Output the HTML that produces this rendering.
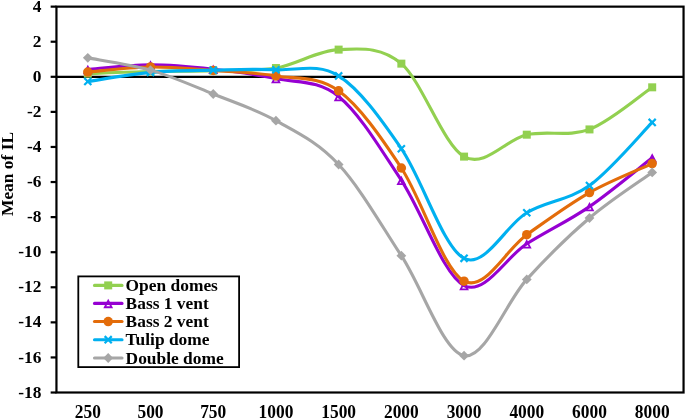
<!DOCTYPE html>
<html><head><meta charset="utf-8"><title>Mean of IL</title>
<style>
html,body{margin:0;padding:0;background:#fff;}
body{width:685px;height:419px;position:relative;overflow:hidden;font-family:"Liberation Serif",serif;font-weight:bold;color:#000;font-size:17.4px;line-height:20px;}
.yl{position:absolute;left:0;width:41.5px;text-align:right;height:20px;white-space:nowrap;}
.xl{position:absolute;top:401.7px;width:60px;text-align:center;height:20px;white-space:nowrap;transform:scaleY(1.08);transform-origin:50% 10.9px;}
.lg{position:absolute;left:125.6px;height:20px;white-space:nowrap;}
.yt{position:absolute;left:-42.7px;top:164.1px;width:100px;height:20px;text-align:center;transform:rotate(-90deg);transform-origin:50% 50%;white-space:nowrap;}
</style></head><body><div id="t" style="position:absolute;left:0;top:0;width:685px;height:419px;will-change:transform;">
<svg width="685" height="419" viewBox="0 0 685 419" style="position:absolute;left:0;top:0">
<rect x="0" y="0" width="685" height="419" fill="#fff"/>
<rect x="56.45" y="6.64" width="627.10" height="385.86" fill="none" stroke="#000" stroke-width="2.20"/>
<line x1="50.65" y1="6.64" x2="56.45" y2="6.64" stroke="#000" stroke-width="2.20"/>
<line x1="50.65" y1="41.72" x2="56.45" y2="41.72" stroke="#000" stroke-width="2.20"/>
<line x1="50.65" y1="76.80" x2="56.45" y2="76.80" stroke="#000" stroke-width="2.20"/>
<line x1="50.65" y1="111.88" x2="56.45" y2="111.88" stroke="#000" stroke-width="2.20"/>
<line x1="50.65" y1="146.96" x2="56.45" y2="146.96" stroke="#000" stroke-width="2.20"/>
<line x1="50.65" y1="182.04" x2="56.45" y2="182.04" stroke="#000" stroke-width="2.20"/>
<line x1="50.65" y1="217.12" x2="56.45" y2="217.12" stroke="#000" stroke-width="2.20"/>
<line x1="50.65" y1="252.20" x2="56.45" y2="252.20" stroke="#000" stroke-width="2.20"/>
<line x1="50.65" y1="287.28" x2="56.45" y2="287.28" stroke="#000" stroke-width="2.20"/>
<line x1="50.65" y1="322.36" x2="56.45" y2="322.36" stroke="#000" stroke-width="2.20"/>
<line x1="50.65" y1="357.44" x2="56.45" y2="357.44" stroke="#000" stroke-width="2.20"/>
<line x1="50.65" y1="392.52" x2="56.45" y2="392.52" stroke="#000" stroke-width="2.20"/>
<line x1="56.45" y1="76.80" x2="683.55" y2="76.80" stroke="#000" stroke-width="2.20"/>
<path d="M87.81 73.64 C98.26 73.29 129.61 72.03 150.51 71.54 C171.42 71.04 192.32 71.25 213.22 70.66 C234.13 70.08 255.03 71.54 275.94 68.03 C296.84 64.52 317.74 50.34 338.64 49.61 C359.55 48.88 380.45 45.81 401.35 63.64 C422.26 81.48 443.16 144.77 464.06 156.61 C484.97 168.45 505.87 139.21 526.77 134.68 C547.68 130.15 568.58 137.31 589.49 129.42 C610.39 121.53 641.74 94.34 652.19 87.32" fill="none" stroke="#92D050" stroke-width="3.10" stroke-linecap="round" stroke-linejoin="round"/>
<rect x="83.81" y="69.64" width="8.00" height="8.00" fill="#92D050"/>
<rect x="146.51" y="67.54" width="8.00" height="8.00" fill="#92D050"/>
<rect x="209.22" y="66.66" width="8.00" height="8.00" fill="#92D050"/>
<rect x="271.94" y="64.03" width="8.00" height="8.00" fill="#92D050"/>
<rect x="334.64" y="45.61" width="8.00" height="8.00" fill="#92D050"/>
<rect x="397.35" y="59.64" width="8.00" height="8.00" fill="#92D050"/>
<rect x="460.06" y="152.61" width="8.00" height="8.00" fill="#92D050"/>
<rect x="522.77" y="130.68" width="8.00" height="8.00" fill="#92D050"/>
<rect x="585.49" y="125.42" width="8.00" height="8.00" fill="#92D050"/>
<rect x="648.19" y="83.32" width="8.00" height="8.00" fill="#92D050"/>
<path d="M87.81 69.43 C98.26 68.67 129.61 64.90 150.51 64.87 C171.42 64.84 192.32 66.98 213.22 69.26 C234.13 71.54 255.03 74.02 275.94 78.55 C296.84 83.09 317.74 79.49 338.64 96.44 C359.55 113.40 380.45 148.77 401.35 180.29 C422.26 211.80 443.16 274.94 464.06 285.53 C484.97 296.11 505.87 256.94 526.77 243.78 C547.68 230.63 568.58 220.92 589.49 206.60 C610.39 192.27 641.74 165.96 652.19 157.83" fill="none" stroke="#9600D2" stroke-width="3.10" stroke-linecap="round" stroke-linejoin="round"/>
<path d="M87.81 66.73 L91.21 73.28 L84.41 73.28 Z" fill="none" stroke="#9600D2" stroke-width="1.8" stroke-linejoin="miter" stroke-miterlimit="10"/>
<path d="M150.51 62.17 L153.91 68.72 L147.11 68.72 Z" fill="none" stroke="#9600D2" stroke-width="1.8" stroke-linejoin="miter" stroke-miterlimit="10"/>
<path d="M213.22 66.56 L216.62 73.11 L209.82 73.11 Z" fill="none" stroke="#9600D2" stroke-width="1.8" stroke-linejoin="miter" stroke-miterlimit="10"/>
<path d="M275.94 75.85 L279.33 82.40 L272.54 82.40 Z" fill="none" stroke="#9600D2" stroke-width="1.8" stroke-linejoin="miter" stroke-miterlimit="10"/>
<path d="M338.64 93.74 L342.04 100.29 L335.25 100.29 Z" fill="none" stroke="#9600D2" stroke-width="1.8" stroke-linejoin="miter" stroke-miterlimit="10"/>
<path d="M401.35 177.59 L404.75 184.14 L397.95 184.14 Z" fill="none" stroke="#9600D2" stroke-width="1.8" stroke-linejoin="miter" stroke-miterlimit="10"/>
<path d="M464.06 282.83 L467.46 289.38 L460.66 289.38 Z" fill="none" stroke="#9600D2" stroke-width="1.8" stroke-linejoin="miter" stroke-miterlimit="10"/>
<path d="M526.77 241.08 L530.17 247.63 L523.38 247.63 Z" fill="none" stroke="#9600D2" stroke-width="1.8" stroke-linejoin="miter" stroke-miterlimit="10"/>
<path d="M589.49 203.90 L592.88 210.45 L586.09 210.45 Z" fill="none" stroke="#9600D2" stroke-width="1.8" stroke-linejoin="miter" stroke-miterlimit="10"/>
<path d="M652.19 155.13 L655.59 161.68 L648.79 161.68 Z" fill="none" stroke="#9600D2" stroke-width="1.8" stroke-linejoin="miter" stroke-miterlimit="10"/>
<path d="M87.81 72.06 C98.26 71.22 129.61 67.24 150.51 66.98 C171.42 66.71 192.32 68.99 213.22 70.49 C234.13 71.98 255.03 72.53 275.94 75.92 C296.84 79.31 317.74 75.48 338.64 90.83 C359.55 106.18 380.45 136.29 401.35 168.01 C422.26 199.73 443.16 270.03 464.06 281.14 C484.97 292.25 505.87 249.42 526.77 234.66 C547.68 219.90 568.58 204.40 589.49 192.56 C610.39 180.72 641.74 168.45 652.19 163.62" fill="none" stroke="#E36C0A" stroke-width="3.10" stroke-linecap="round" stroke-linejoin="round"/>
<circle cx="87.81" cy="72.06" r="4.75" fill="#E36C0A"/>
<circle cx="150.51" cy="66.98" r="4.75" fill="#E36C0A"/>
<circle cx="213.22" cy="70.49" r="4.75" fill="#E36C0A"/>
<circle cx="275.94" cy="75.92" r="4.75" fill="#E36C0A"/>
<circle cx="338.64" cy="90.83" r="4.75" fill="#E36C0A"/>
<circle cx="401.35" cy="168.01" r="4.75" fill="#E36C0A"/>
<circle cx="464.06" cy="281.14" r="4.75" fill="#E36C0A"/>
<circle cx="526.77" cy="234.66" r="4.75" fill="#E36C0A"/>
<circle cx="589.49" cy="192.56" r="4.75" fill="#E36C0A"/>
<circle cx="652.19" cy="163.62" r="4.75" fill="#E36C0A"/>
<path d="M87.81 81.54 C98.26 80.02 129.61 74.32 150.51 72.41 C171.42 70.51 192.32 70.57 213.22 70.13 C234.13 69.70 255.03 68.82 275.94 69.78 C296.84 70.75 317.74 62.77 338.64 75.92 C359.55 89.08 380.45 118.31 401.35 148.71 C422.26 179.12 443.16 247.67 464.06 258.34 C484.97 269.01 505.87 224.87 526.77 212.74 C547.68 200.60 568.58 200.60 589.49 185.55 C610.39 170.49 641.74 132.93 652.19 122.40" fill="none" stroke="#00B0F0" stroke-width="3.10" stroke-linecap="round" stroke-linejoin="round"/>
<path d="M84.26 77.99 L91.36 85.09 M84.26 85.09 L91.36 77.99" stroke="#00B0F0" stroke-width="2.2" fill="none"/>
<path d="M146.96 68.86 L154.06 75.96 M146.96 75.96 L154.06 68.86" stroke="#00B0F0" stroke-width="2.2" fill="none"/>
<path d="M209.67 66.58 L216.77 73.68 M209.67 73.68 L216.77 66.58" stroke="#00B0F0" stroke-width="2.2" fill="none"/>
<path d="M272.38 66.23 L279.49 73.33 M272.38 73.33 L279.49 66.23" stroke="#00B0F0" stroke-width="2.2" fill="none"/>
<path d="M335.09 72.37 L342.19 79.47 M335.09 79.47 L342.19 72.37" stroke="#00B0F0" stroke-width="2.2" fill="none"/>
<path d="M397.80 145.16 L404.90 152.26 M397.80 152.26 L404.90 145.16" stroke="#00B0F0" stroke-width="2.2" fill="none"/>
<path d="M460.51 254.79 L467.61 261.89 M460.51 261.89 L467.61 254.79" stroke="#00B0F0" stroke-width="2.2" fill="none"/>
<path d="M523.23 209.19 L530.32 216.29 M523.23 216.29 L530.32 209.19" stroke="#00B0F0" stroke-width="2.2" fill="none"/>
<path d="M585.94 182.00 L593.03 189.10 M585.94 189.10 L593.03 182.00" stroke="#00B0F0" stroke-width="2.2" fill="none"/>
<path d="M648.64 118.85 L655.74 125.95 M648.64 125.95 L655.74 118.85" stroke="#00B0F0" stroke-width="2.2" fill="none"/>
<path d="M87.81 57.86 C98.26 59.90 129.61 64.11 150.51 70.13 C171.42 76.16 192.32 85.57 213.22 93.99 C234.13 102.41 255.03 108.90 275.94 120.65 C296.84 132.40 317.74 141.99 338.64 164.50 C359.55 187.01 380.45 223.84 401.35 255.71 C422.26 287.57 443.16 351.74 464.06 355.69 C484.97 359.63 505.87 302.34 526.77 279.39 C547.68 256.44 568.58 235.83 589.49 218.00 C610.39 200.16 641.74 179.99 652.19 172.39" fill="none" stroke="#A6A6A6" stroke-width="3.10" stroke-linecap="round" stroke-linejoin="round"/>
<path d="M87.81 52.96 L92.71 57.86 L87.81 62.76 L82.91 57.86 Z" fill="#A6A6A6"/>
<path d="M150.51 65.23 L155.41 70.13 L150.51 75.03 L145.61 70.13 Z" fill="#A6A6A6"/>
<path d="M213.22 89.09 L218.12 93.99 L213.22 98.89 L208.32 93.99 Z" fill="#A6A6A6"/>
<path d="M275.94 115.75 L280.83 120.65 L275.94 125.55 L271.04 120.65 Z" fill="#A6A6A6"/>
<path d="M338.64 159.60 L343.54 164.50 L338.64 169.40 L333.75 164.50 Z" fill="#A6A6A6"/>
<path d="M401.35 250.81 L406.25 255.71 L401.35 260.61 L396.45 255.71 Z" fill="#A6A6A6"/>
<path d="M464.06 350.79 L468.96 355.69 L464.06 360.59 L459.16 355.69 Z" fill="#A6A6A6"/>
<path d="M526.77 274.49 L531.67 279.39 L526.77 284.29 L521.88 279.39 Z" fill="#A6A6A6"/>
<path d="M589.49 213.10 L594.38 218.00 L589.49 222.90 L584.59 218.00 Z" fill="#A6A6A6"/>
<path d="M652.19 167.49 L657.09 172.39 L652.19 177.29 L647.29 172.39 Z" fill="#A6A6A6"/>
<rect x="78.30" y="276.40" width="160.80" height="90.70" fill="#fff" stroke="#000" stroke-width="1.8"/>
<line x1="94.5" y1="285.40" x2="122.0" y2="285.40" stroke="#92D050" stroke-width="3.10" stroke-linecap="round"/>
<rect x="104.20" y="281.40" width="8.00" height="8.00" fill="#92D050"/>
<line x1="94.5" y1="303.40" x2="122.0" y2="303.40" stroke="#9600D2" stroke-width="3.10" stroke-linecap="round"/>
<path d="M108.20 300.70 L111.60 307.25 L104.80 307.25 Z" fill="none" stroke="#9600D2" stroke-width="1.8" stroke-linejoin="miter" stroke-miterlimit="10"/>
<line x1="94.5" y1="321.55" x2="122.0" y2="321.55" stroke="#E36C0A" stroke-width="3.10" stroke-linecap="round"/>
<circle cx="108.20" cy="321.55" r="4.75" fill="#E36C0A"/>
<line x1="94.5" y1="339.70" x2="122.0" y2="339.70" stroke="#00B0F0" stroke-width="3.10" stroke-linecap="round"/>
<path d="M104.65 336.15 L111.75 343.25 M104.65 343.25 L111.75 336.15" stroke="#00B0F0" stroke-width="2.2" fill="none"/>
<line x1="94.5" y1="358.00" x2="122.0" y2="358.00" stroke="#A6A6A6" stroke-width="3.10" stroke-linecap="round"/>
<path d="M108.20 353.10 L113.10 358.00 L108.20 362.90 L103.30 358.00 Z" fill="#A6A6A6"/>
</svg>
<div class="yl" style="top:-4.26px">4</div>
<div class="yl" style="top:30.82px">2</div>
<div class="yl" style="top:65.90px">0</div>
<div class="yl" style="top:100.98px">-2</div>
<div class="yl" style="top:136.06px">-4</div>
<div class="yl" style="top:171.14px">-6</div>
<div class="yl" style="top:206.22px">-8</div>
<div class="yl" style="top:241.30px">-10</div>
<div class="yl" style="top:276.38px">-12</div>
<div class="yl" style="top:311.46px">-14</div>
<div class="yl" style="top:346.54px">-16</div>
<div class="yl" style="top:381.62px">-18</div>
<div class="xl" style="left:57.81px">250</div>
<div class="xl" style="left:120.51px">500</div>
<div class="xl" style="left:183.22px">750</div>
<div class="xl" style="left:245.94px">1000</div>
<div class="xl" style="left:308.64px">1500</div>
<div class="xl" style="left:371.35px">2000</div>
<div class="xl" style="left:434.06px">3000</div>
<div class="xl" style="left:496.77px">4000</div>
<div class="xl" style="left:559.49px">6000</div>
<div class="xl" style="left:622.19px">8000</div>
<div class="lg" style="top:274.90px">Open domes</div>
<div class="lg" style="top:292.90px">Bass 1 vent</div>
<div class="lg" style="top:311.05px">Bass 2 vent</div>
<div class="lg" style="top:329.20px">Tulip dome</div>
<div class="lg" style="top:347.50px">Double dome</div>
<div class="yt">Mean of IL</div>
</div></body></html>
